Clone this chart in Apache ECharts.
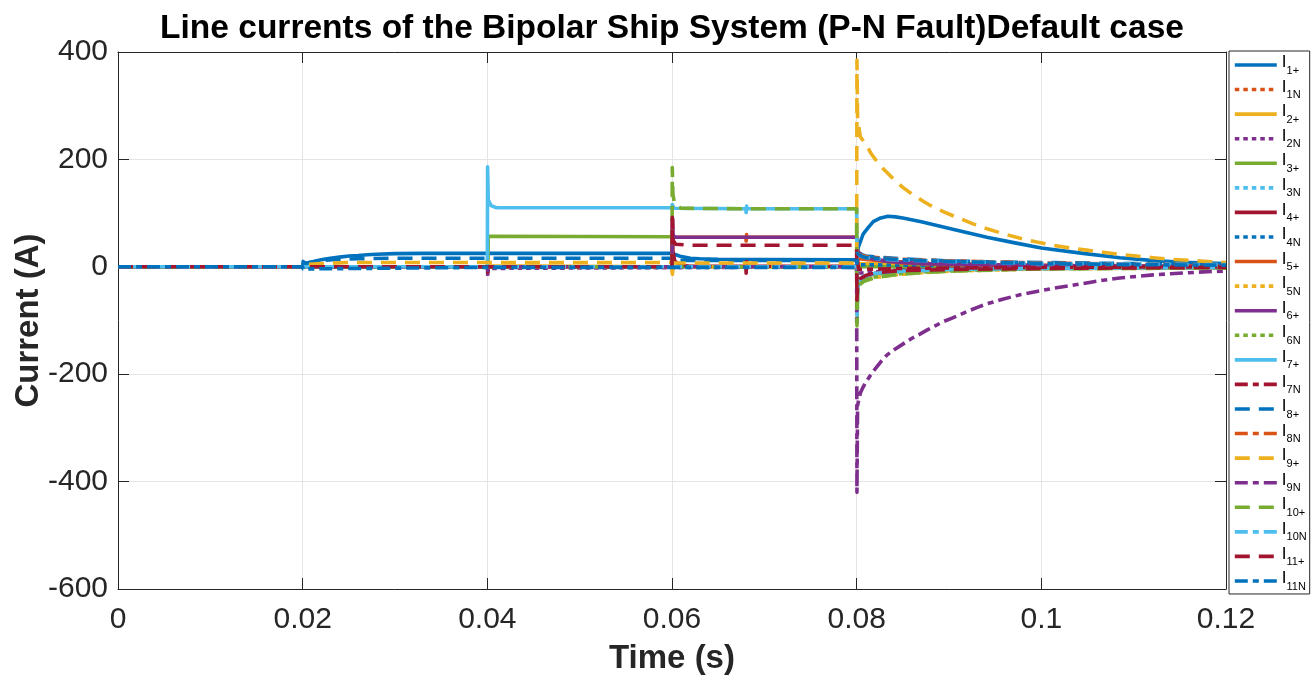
<!DOCTYPE html>
<html>
<head>
<meta charset="utf-8">
<title>Line currents of the Bipolar Ship System</title>
<script src="https://cdn.jsdelivr.net/npm/echarts@6/dist/echarts.min.js"></script>
<style>
  html, body { margin: 0; padding: 0; background: #fff; }
  #chart { width: 1314px; height: 681px; }
</style>
</head>
<body>
<div id="chart"></div>
<script>
// Axis ticks
const xTickLabels = ['0', '0.02', '0.04', '0.06', '0.08', '0.1', '0.12'];
const yTickLabels = ['-600', '-400', '-200', '0', '200', '400'];

// Subscripts of the line-current names (I1+, I1N, ... I11N)
const seriesSubs = ['1+', '1N', '2+', '2N', '3+', '3N', '4+', '4N', '5+', '5N', '6+',
                    '6N', '7+', '7N', '8+', '8N', '9+', '9N', '10+', '10N', '11+', '11N'];

// Current samples [time (s), current (A)]
const i1p = [[0,0],[0.02,0],[0.02005,10],[0.0202,6],[0.021,9],[0.022,13],[0.023,16],[0.024,18],[0.025,20],[0.026,21],[0.027,22.5],[0.028,23.5],[0.03,24.5],[0.033,25],[0.04,25],[0.06,25],[0.0605,22],[0.061,19],[0.062,16],[0.063,15],[0.065,14],[0.07,13.5],[0.08,13],[0.08015,35],[0.0807,61],[0.0812,72],[0.0818,84],[0.0826,91],[0.0834,94],[0.0842,93],[0.085,91],[0.087,84],[0.0904,70],[0.0941,55],[0.097,45],[0.1,35],[0.1045,25],[0.1085,17],[0.1125,11],[0.116,8],[0.12,6]];
const i1n = [[0,0],[0.08,0],[0.08005,18],[0.081,14],[0.085,9],[0.09,6],[0.1,3],[0.12,1]];
const i2p = [[0,0],[0.04,0],[0.04005,18],[0.0401,2],[0.0403,0],[0.06,0],[0.06005,-12],[0.0601,0],[0.08,0],[0.08005,12],[0.0802,6],[0.09,3],[0.12,1]];
const i2n = [[0,0],[0.04,0],[0.04005,-18],[0.0401,-3],[0.0403,0],[0.08,0],[0.08005,-30],[0.0802,-12],[0.085,-5],[0.1,-2],[0.12,-1]];
const i3p = [[0,0],[0.04,0],[0.04005,-8],[0.0401,57],[0.0403,56],[0.06,56],[0.06005,-5],[0.0601,0],[0.12,0]];
const i3n = [[0,0],[0.02,0],[0.08,0],[0.08005,-40],[0.0802,-22],[0.0808,-17],[0.082,-13],[0.085,-9],[0.09,-6],[0.1,-3],[0.12,-1]];
const i4p = [[0,0],[0.04,0],[0.04005,-10],[0.0401,0],[0.06,0],[0.06005,90],[0.0601,30],[0.0603,10],[0.061,3],[0.062,1],[0.068,1],[0.06803,-12],[0.06808,10],[0.0681,1],[0.08,1],[0.08005,-65],[0.0801,-40],[0.0803,-28],[0.0806,-22],[0.081,-18],[0.082,-12],[0.084,-8],[0.087,-6],[0.09,-4],[0.1,-2],[0.12,-1]];
const i4n = [[0,0],[0.08,0],[0.08005,8],[0.0802,4],[0.09,2],[0.12,0]];
const i5p = [[0,0],[0.06,0],[0.06005,55],[0.068,55],[0.06803,48],[0.06808,60],[0.0681,55],[0.08,55],[0.08005,20],[0.0802,15],[0.085,7],[0.09,4],[0.1,2],[0.12,1]];
const i5n = [[0,0],[0.04,0],[0.04005,10],[0.0401,0],[0.08,0],[0.08005,-45],[0.0802,-33],[0.0806,-28],[0.081,-25],[0.082,-20],[0.084,-15],[0.087,-11],[0.09,-8],[0.095,-6],[0.1,-4],[0.11,-3],[0.12,-2]];
const i6p = [[0,0],[0.06,0],[0.06005,90],[0.0601,60],[0.0603,55],[0.08,55],[0.08005,35],[0.0802,27],[0.0806,22],[0.081,18],[0.082,14],[0.083,11],[0.085,8],[0.0875,6],[0.09,5],[0.095,3.5],[0.1,2.5],[0.11,1.5],[0.12,1]];
const i6n = [[0,0],[0.08,0],[0.08005,-105],[0.0801,-50],[0.0803,-33],[0.0806,-28],[0.081,-24],[0.082,-19],[0.084,-14],[0.087,-10],[0.09,-8],[0.095,-5],[0.1,-4],[0.11,-2.5],[0.12,-2]];
const i7p = [[0,0],[0.04,0],[0.04003,186],[0.0401,125],[0.0404,114],[0.041,110],[0.06,110],[0.06003,116],[0.0602,109],[0.068,108],[0.06803,101],[0.06808,113],[0.0681,108],[0.08,108],[0.08005,-90],[0.0801,-40],[0.0804,-25],[0.0808,-18],[0.082,-12],[0.085,-8],[0.09,-5],[0.1,-3],[0.12,-1]];
const i7n = [[0,0],[0.02,0],[0.0201,-2],[0.08,-1],[0.08005,20],[0.0802,-5],[0.085,-3],[0.1,-1],[0.12,0]];
const i8p = [[0,0],[0.02,0],[0.02005,12],[0.0202,6],[0.021,9],[0.022,12],[0.024,14],[0.026,15],[0.03,16],[0.04,16],[0.06,16],[0.06005,8],[0.0602,12],[0.062,12],[0.08,12],[0.08005,32],[0.0802,26],[0.0806,22],[0.081,20],[0.083,17],[0.086,14],[0.09,11],[0.095,9],[0.1,8],[0.11,6],[0.12,5]];
const i8n = [[0,0],[0.08,0],[0.08005,28],[0.0802,24],[0.0806,21],[0.081,19],[0.083,16],[0.086,13],[0.09,11],[0.095,9],[0.1,7],[0.11,5],[0.12,4]];
const i9p = [[0,0],[0.02,0],[0.0202,4],[0.022,6],[0.025,8],[0.04,8],[0.06,8],[0.06005,-14],[0.0601,7],[0.08,7],[0.08003,385],[0.0801,275],[0.0804,242],[0.081,228],[0.0816,210],[0.0822,196],[0.0828,184],[0.0835,172],[0.0842,160],[0.085,148],[0.0857,139],[0.0865,130],[0.0872,122],[0.0879,115],[0.0887,108],[0.0895,102],[0.0903,96],[0.0912,90],[0.0926,80],[0.0941,71],[0.0958,62],[0.0977,53],[0.0995,46],[0.1013,40],[0.1031,35],[0.1049,31],[0.1067,27],[0.1085,23],[0.1103,20],[0.1121,17],[0.114,14],[0.116,12],[0.118,10],[0.12,8]];
const i9n = [[0,0],[0.04,0],[0.04005,-12],[0.0401,0],[0.08,0],[0.08003,-420],[0.0801,-258],[0.0804,-235],[0.0807,-224],[0.081,-215],[0.0816,-199],[0.0822,-186],[0.0827,-175],[0.0833,-164],[0.0841,-154],[0.085,-144],[0.0859,-134],[0.0869,-125],[0.0877,-117],[0.0885,-110],[0.0894,-102],[0.0904,-95],[0.0912,-89],[0.092,-83],[0.093,-76],[0.0941,-69],[0.0959,-60],[0.0977,-52],[0.0995,-46],[0.1013,-40],[0.1031,-35],[0.1049,-30],[0.1067,-25],[0.1085,-21],[0.1103,-18],[0.1121,-15],[0.114,-13],[0.116,-11],[0.118,-9],[0.12,-8]];
const i10p = [[0,0],[0.06,0],[0.06003,185],[0.0601,135],[0.0603,115],[0.061,109],[0.068,108],[0.08,108],[0.08003,-110],[0.0801,-45],[0.0804,-32],[0.0808,-27],[0.082,-20],[0.084,-15],[0.087,-11],[0.09,-8],[0.095,-6],[0.1,-4],[0.11,-3],[0.12,-2]];
const i10n = [[0,0],[0.02,0],[0.02005,-3],[0.0201,0],[0.08,0],[0.08005,26],[0.0802,22],[0.0806,19],[0.081,17],[0.083,14],[0.086,12],[0.09,10],[0.095,8],[0.1,6],[0.11,5],[0.12,4]];
const i11p = [[0,0],[0.06,0],[0.06003,92],[0.0601,50],[0.0604,42],[0.062,40],[0.08,40],[0.08003,-62],[0.0801,-30],[0.0804,-22],[0.081,-16],[0.082,-11],[0.085,-7],[0.09,-5],[0.1,-3],[0.11,-2],[0.12,-1]];
const i11n = [[0,0],[0.02,0],[0.02005,-4],[0.0201,-1],[0.04,-1],[0.06,-1],[0.08,-1],[0.08005,25],[0.0802,22],[0.0806,19],[0.081,17],[0.083,15],[0.086,12],[0.09,10],[0.095,8],[0.1,6],[0.11,4],[0.12,3]];

const seriesValues = [i1p, i1n, i2p, i2n, i3p, i3n, i4p, i4n, i5p, i5n, i6p,
                      i6n, i7p, i7n, i8p, i8n, i9p, i9n, i10p, i10n, i11p, i11n];

// Styling: colour cycle and per-line dash patterns
const palette = ['#0072BD', '#D95319', '#EDB120', '#7E2F8E', '#77AC30', '#4DBEEE', '#A2142F'];
const LINE_W = 3.6;
const DOT = [4.5, 4], DASH = [15, 9], DASHDOT = [13, 5, 6, 5];
const dashes = [null, DOT, null, DOT, null, DOT, null, DOT, null, DOT, null,
                DOT, null, DASHDOT, DASH, DASHDOT, DASH, DASHDOT, DASH, DASHDOT, DASH, DASHDOT];

const FONT = '"Liberation Sans", Arial, Helvetica, sans-serif';
const INK = '#262626';
const GRIDC = '#e4e4e4';

const series = seriesSubs.map((sub, k) => ({
  name: 'I' + sub,
  type: 'line',
  data: seriesValues[k],
  symbol: 'none',
  showSymbol: false,
  clip: true,
  z: 2 + k,
  lineStyle: {
    color: palette[k % palette.length],
    width: LINE_W,
    type: dashes[k] || 'solid',
    cap: 'butt',
    join: 'round'
  },
  itemStyle: { color: palette[k % palette.length] },
  emphasis: { disabled: true }
}));

function axisBase(pos, showLabels) {
  return {
    type: 'value',
    position: pos,
    axisLine: { show: true, onZero: false, lineStyle: { color: INK, width: 1 } },
    axisTick: { show: true, inside: true, length: 11, lineStyle: { color: INK, width: 1 } },
    splitLine: { show: showLabels, lineStyle: { color: GRIDC, width: 1 } },
    axisLabel: { show: showLabels }
  };
}

const xMain = Object.assign(axisBase('bottom', true), {
  min: 0, max: 0.12, interval: 0.02,
  name: 'Time (s)', nameLocation: 'middle', nameGap: 53, nameMoveOverlap: false,
  nameTextStyle: { fontFamily: FONT, fontSize: 33, fontWeight: 'bold', color: INK },
  axisLabel: {
    show: true, margin: 16, fontFamily: FONT, fontSize: 30, color: INK,
    formatter: v => xTickLabels[Math.round(v / 0.02)]
  }
});
const xTop = Object.assign(axisBase('top', false), { min: 0, max: 0.12, interval: 0.02 });

const yMain = Object.assign(axisBase('left', true), {
  min: -600, max: 400, interval: 200,
  name: 'Current (A)', nameLocation: 'middle', nameGap: 73, nameRotate: 90, nameMoveOverlap: false,
  nameTextStyle: { fontFamily: FONT, fontSize: 33, fontWeight: 'bold', color: INK },
  axisLabel: {
    show: true, margin: 10, fontFamily: FONT, fontSize: 30, color: INK,
    formatter: v => yTickLabels[Math.round((v + 600) / 200)]
  }
});
const yRight = Object.assign(axisBase('right', false), { min: -600, max: 400, interval: 200 });

const chart = echarts.init(document.getElementById('chart'), null, { renderer: 'canvas' });
chart.setOption({
  animation: false,
  backgroundColor: '#ffffff',
  title: {
    text: 'Line currents of the Bipolar Ship System (P-N Fault)Default case',
    left: 672, top: 12, padding: 0, textAlign: 'center',
    textStyle: { fontFamily: FONT, fontSize: 33.5, fontWeight: 'bold', color: '#000' }
  },
  grid: { left: 118, right: 88, top: 52, bottom: 92, containLabel: false, outerBoundsMode: 'none' },
  xAxis: [xMain, xTop],
  yAxis: [yMain, yRight],
  legend: {
    orient: 'vertical',
    left: 1229, top: 51,
    padding: [3, 3, 2, 4],
    itemGap: 2.57,
    itemWidth: 42, itemHeight: 14,
    backgroundColor: '#ffffff',
    borderColor: INK, borderWidth: 1, borderRadius: 0,
    selectedMode: false,
    data: seriesSubs.map(s => 'I' + s),
    lineStyle: { width: LINE_W },
    itemStyle: { color: 'rgba(0,0,0,0)', borderColor: 'rgba(0,0,0,0)', borderWidth: 0, opacity: 0 },
    formatter: name => '{i|I}{s|' + name.slice(1) + '}',
    textStyle: {
      fontFamily: FONT, color: '#000',
      rich: {
        i: { fontFamily: FONT, fontSize: 17, lineHeight: 22, verticalAlign: 'top', color: '#000' },
        s: { fontFamily: FONT, fontSize: 11, lineHeight: 9, verticalAlign: 'bottom', color: '#000' }
      }
    }
  },
  series: series
});
</script>
</body>
</html>
